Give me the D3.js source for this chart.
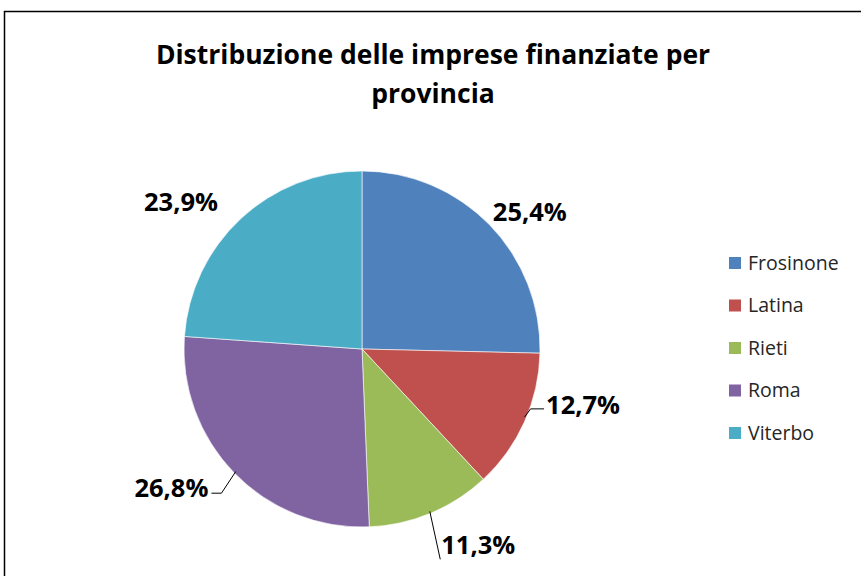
<!DOCTYPE html>
<head>
<meta charset="utf-8">
<script src="https://d3js.org/d3.v7.min.js"></script>
</head>
<style>
body { margin: 0; background: #fff; }
text { font-family: "Open Sans", "Noto Sans", sans-serif; fill: #000; }
.title { font-weight: bold; font-size: 26.5px; }
.lbl { font-weight: bold; font-size: 25.5px; }
.leg { font-size: 19.5px; fill: #262626; }
.leader { fill: none; stroke: #000; stroke-width: 1px; }
</style>
<body>
<script>
// data
var provinces = ["Frosinone", "Latina", "Rieti", "Roma", "Viterbo"];
var shares = [25.4, 12.7, 11.3, 26.8, 23.9];
var colors = ["#4F81BD", "#C0504D", "#9BBB59", "#8064A2", "#4BACC6"];
var titleLines = ["Distribuzione delle imprese finanziate per", "provincia"];

// label placement (excel "best fit" look): angle nudge in degrees, distance from centre
var labelNudge = [5, -10, -8, 8, -8];
var labelDist = [217, 228, 228, 236, 233];
var hasLeader = [false, true, true, true, false];

var width = 861, height = 576;
var cx = 362, cy = 349, r = 178;

var svg = d3.select("body").append("svg")
    .attr("width", width)
    .attr("height", height);

// chart area border
svg.append("rect")
    .attr("x", 4.5).attr("y", 11.5)
    .attr("width", 880).attr("height", 600)
    .attr("fill", "#fff")
    .attr("stroke", "#000")
    .attr("stroke-width", 1.5);

svg.selectAll(".title")
    .data(titleLines)
  .enter().append("text")
    .attr("class", "title")
    .attr("x", 433)
    .attr("y", function(d, i) { return 64 + i * 39; })
    .attr("text-anchor", "middle")
    .text(function(d) { return d; });

var data = provinces.map(function(p, i) { return {name: p, value: shares[i], i: i}; });

var pie = d3.pie().sort(null).value(function(d) { return d.value; });
var arc = d3.arc().innerRadius(0).outerRadius(r);
var arcs = pie(data);

var g = svg.append("g").attr("transform", "translate(" + cx + "," + cy + ")");

g.selectAll(".slice")
    .data(arcs)
  .enter().append("path")
    .attr("class", "slice")
    .attr("d", arc)
    .attr("fill", function(d) { return colors[d.data.i]; })
    .attr("stroke", "#fff")
    .attr("stroke-width", 0.6);

function fmt(v) { return v.toFixed(1).replace(".", ",") + "%"; }

arcs.forEach(function(d) {
  var i = d.data.i;
  var mid = (d.startAngle + d.endAngle) / 2;
  var a = mid + labelNudge[i] * Math.PI / 180;
  var lx = labelDist[i] * Math.sin(a), ly = -labelDist[i] * Math.cos(a);
  var t = g.append("text")
      .attr("class", "lbl")
      .attr("x", lx).attr("y", ly)
      .attr("text-anchor", "middle")
      .attr("dy", "0.36em")
      .text(fmt(d.data.value));
  if (hasLeader[i]) {
    var bb = t.node().getBBox();
    var ex = (r - 2) * Math.sin(mid), ey = -(r - 2) * Math.cos(mid);
    var pts;
    if (lx > 0 && ly < 100) {
      // right side: short elbow to the left edge of the text
      var tx = bb.x - 2;
      pts = [[ex + 2, ey - 4], [ex + 8, ly + 4], [tx, ly + 4]];
    } else if (lx > 0) {
      pts = [[ex, ey], [bb.x - 1, bb.y + bb.height - 2]];
    } else {
      var rx = bb.x + bb.width + 3;
      pts = [[ex, ey], [rx + 10, ly + 5], [rx, ly + 5]];
    }
    g.append("path")
        .attr("class", "leader")
        .attr("d", d3.line()(pts));
  }
});

// legend
var legend = svg.selectAll(".legend")
    .data(data)
  .enter().append("g")
    .attr("transform", function(d, i) { return "translate(729," + (263 + i * 42.5) + ")"; });
legend.append("rect")
    .attr("x", 0).attr("y", -6)
    .attr("width", 12).attr("height", 12)
    .attr("fill", function(d) { return colors[d.i]; });
legend.append("text")
    .attr("class", "leg")
    .attr("x", 19)
    .attr("dy", "0.35em")
    .text(function(d) { return d.name; });
</script>
</body>
